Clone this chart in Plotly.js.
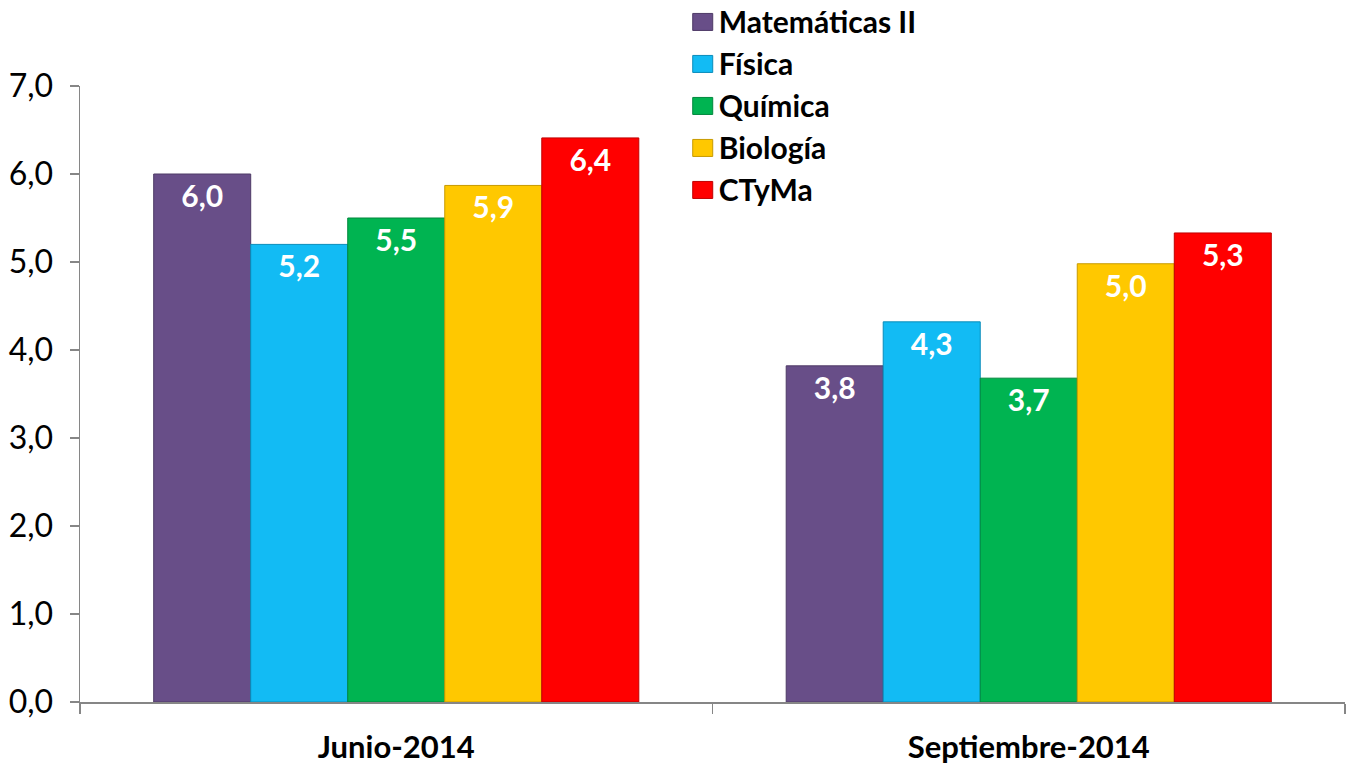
<!DOCTYPE html>
<html>
<head>
<meta charset="utf-8">
<script src="https://cdn.plot.ly/plotly-3.0.1.min.js"></script>
<style>html,body{margin:0;padding:0;background:#fff;}#chart{width:1347px;height:767px;}</style>
</head>
<body>
<div id="chart"></div>
<script>
const categories = ["Junio-2014", "Septiembre-2014"];
const seriesNames = ["Matemáticas II", "Física", "Química", "Biología", "CTyMa"];
const matematicas = [6.0, 3.82];
const fisica = [5.2, 4.32];
const quimica = [5.5, 3.68];
const biologia = [5.87, 4.98];
const ctyma = [6.41, 5.33];
const seriesValues = [matematicas, fisica, quimica, biologia, ctyma];
const yTickValues = [0, 1, 2, 3, 4, 5, 6, 7];

const colors = ["#684E88", "#12BBF4", "#00B451", "#FFC800", "#FF0000"];
const lineColors = ["#4E3A66", "#0A8CBA", "#00873D", "#C79A00", "#C00000"];
const FONT = "Lato, 'Open Sans', sans-serif";

const traces = seriesNames.map((name, i) => ({
  type: "bar",
  name: name,
  x: categories,
  y: seriesValues[i],
  legendgroup: "g" + i,
  marker: { color: colors[i], line: { color: lineColors[i], width: 1 } },
  texttemplate: "%{y:.1f}",
  textposition: "inside",
  insidetextanchor: "end",
  textangle: 0,
  textfont: { family: FONT, size: 30, color: "#ffffff", weight: "bold" },
  hoverinfo: "x+y+name"
}));

const layout = {
  width: 1347,
  height: 767,
  paper_bgcolor: "#ffffff",
  plot_bgcolor: "#ffffff",
  separators: ", ",
  margin: { l: 80, r: 2, t: 86, b: 65, autoexpand: false },
  barmode: "group",
  bargap: 0.233,
  bargroupgap: 0,
  showlegend: true,
  legend: {
    x: 0.4733, y: 1.147, xanchor: "left", yanchor: "top",
    font: { family: FONT, size: 30, color: "#000000", weight: "bold" },
    tracegroupgap: 6,
    traceorder: "normal",
    bgcolor: "rgba(0,0,0,0)",
    itemwidth: 30
  },
  xaxis: {
    type: "category",
    automargin: false,
    showline: true, linecolor: "#868686", linewidth: 1.5,
    ticks: "outside", tickson: "boundaries", ticklen: 10, tickcolor: "#868686", tickwidth: 1.5,
    ticklabelstandoff: 17,
    tickfont: { family: FONT, size: 31, color: "#000000", weight: "bold" },
    showgrid: false, zeroline: false
  },
  yaxis: {
    range: [0, 7],
    automargin: false,
    tickvals: yTickValues,
    tickformat: ".1f",
    showline: true, linecolor: "#868686", linewidth: 1.5,
    ticks: "outside", ticklen: 9, tickcolor: "#868686", tickwidth: 1.5,
    ticklabelstandoff: 10,
    tickfont: { family: FONT, size: 32, color: "#000000" },
    showgrid: false, zeroline: false
  }
};

Plotly.newPlot("chart", traces, layout, { displayModeBar: false, staticPlot: true }).then(() => {
  document.querySelectorAll("#chart .legendpoints path").forEach(p => {
    p.setAttribute("d", "M34,9H14V-8H34Z");
    p.removeAttribute("transform");
  });
});
</script>
</body>
</html>
